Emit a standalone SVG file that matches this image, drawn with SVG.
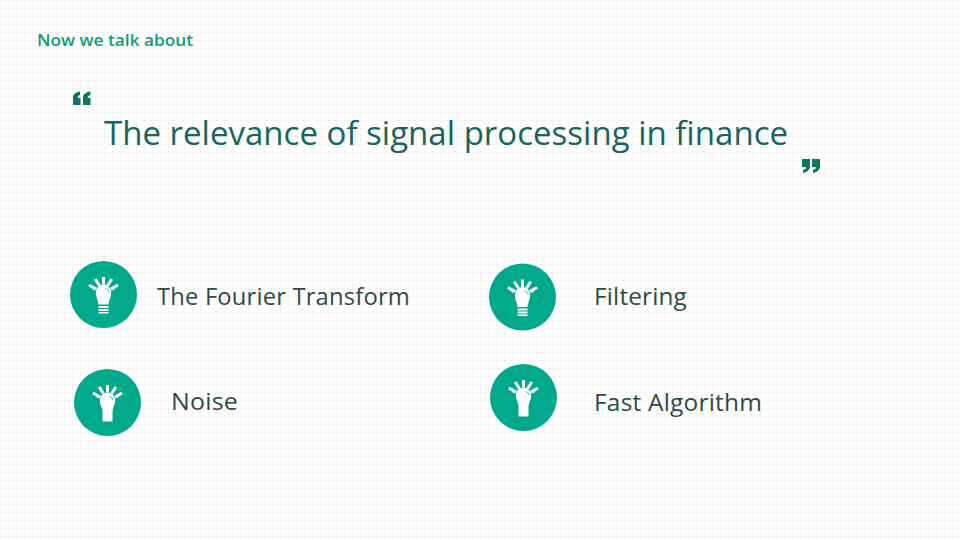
<svg xmlns="http://www.w3.org/2000/svg" width="960" height="540" viewBox="0 0 960 540">
<style>
.t{font-family:"Open Sans","Noto Sans",sans-serif}
.item{font-size:24px;fill:#2f4a46;letter-spacing:.2px}
.disc{fill:#00a98a}
.ray{stroke:#fff;stroke-width:3;stroke-linecap:butt;fill:none}
.bulb{fill:#fff}
.hl{fill:none;stroke:#00a98a;stroke-width:.7}
.q{fill:#0d7560}
</style>
<defs>
<pattern id="grid" width="8" height="8" patternUnits="userSpaceOnUse">
<path d="M0 .5H8M.5 0V8" stroke="#f4f5f4" stroke-width="1" fill="none"/>
</pattern>
<g id="rays">
<path class="ray" d="M0-17.5V-10M-8.3-15.5L-4-8.7M8.3-15.5L4-8.7M-14.5-9.5L-7.3-5.5M14.5-9.5L7.3-5.5"/>
<path class="bulb" d="M-15-9.5L-12.5-9.8L-8-6.5L-9.5-4ZM15-9.5L12.5-9.8L8-6.5L9.5-4Z"/>
</g>
<g id="bulb-stripes">
<use href="#rays"/>
<path class="bulb" d="M-7.5-.5A7.7 7.7 0 1 1 7.5-.5C7.5 3 5.5 5 5 10H-5C-5.500 5-7.500 3-7.500-.5Z"/>
<path class="hl" d="M2-6A5.500 5.500 0 0 1 6-2"/>
<path class="bulb" d="M-5 11.500H5V13.500H-5ZM-5 14.500H5V16.500H-5ZM-5 17.500H5V19H-5Z"/>
</g>
<g id="bulb-block">
<use href="#rays"/>
<path class="bulb" d="M-7.500-.5A7.700 7.700 0 1 1 7.500-.5C7.500 3 5 5 5 9V19H-5V9C-5 5-7.500 3-7.500-.5Z"/>
<path class="hl" d="M2-6A5.500 5.500 0 0 1 6-2"/>
</g>
</defs>
<rect width="960" height="540" fill="#fff"/>
<rect width="960" height="540" fill="url(#grid)"/>
<g id="connectors"/>
<g id="heading"><text class="t" x="37" y="46" font-size="16" font-weight="600" fill="#0f9b80" textLength="156" lengthAdjust="spacingAndGlyphs">Now we talk about</text></g>
<g id="title">
<path class="q" d="M73 105V98C73 94 76 92 80 91.500V95C78.500 95.500 77.700 96.500 77.700 98H80.500V105ZM83 105V98C83 94 86 92 90.500 91.500V95C88.500 95.500 87.700 96.500 87.700 98H90.500V105Z"/>
<text class="t" x="104" y="145" font-size="32" fill="#17655b" textLength="684" lengthAdjust="spacingAndGlyphs">The relevance of signal processing in finance</text>
<path class="q" d="M802 159H810V166C810 170 807 172 803 173V170C805 169.500 806 168.500 806 167H802ZM812 159H820V166C820 170 817 172 813 173V170C815 169.500 816 168.500 816 167H812Z"/>
</g>
<g id="node-fourier">
<circle class="disc" cx="103.500" cy="294.500" r="33.500"/>
<use href="#bulb-stripes" x="103.500" y="294.500"/>
<text class="t item" x="157" y="305" textLength="253" lengthAdjust="spacingAndGlyphs">The Fourier Transform</text>
</g>
<g id="node-filtering">
<circle class="disc" cx="522.500" cy="297" r="33.500"/>
<use href="#bulb-stripes" x="522.500" y="297"/>
<text class="t item" x="594" y="305" textLength="93" lengthAdjust="spacingAndGlyphs">Filtering</text>
</g>
<g id="node-noise">
<circle class="disc" cx="107.500" cy="402.500" r="33.500"/>
<use href="#bulb-block" x="107.500" y="402.500"/>
<text class="t item" x="171" y="410" textLength="67" lengthAdjust="spacingAndGlyphs">Noise</text>
</g>
<g id="node-fast">
<circle class="disc" cx="523.500" cy="397.500" r="33.500"/>
<use href="#bulb-block" x="523.500" y="397.500"/>
<text class="t item" x="594" y="411" textLength="168" lengthAdjust="spacingAndGlyphs">Fast Algorithm</text>
</g>
</svg>
